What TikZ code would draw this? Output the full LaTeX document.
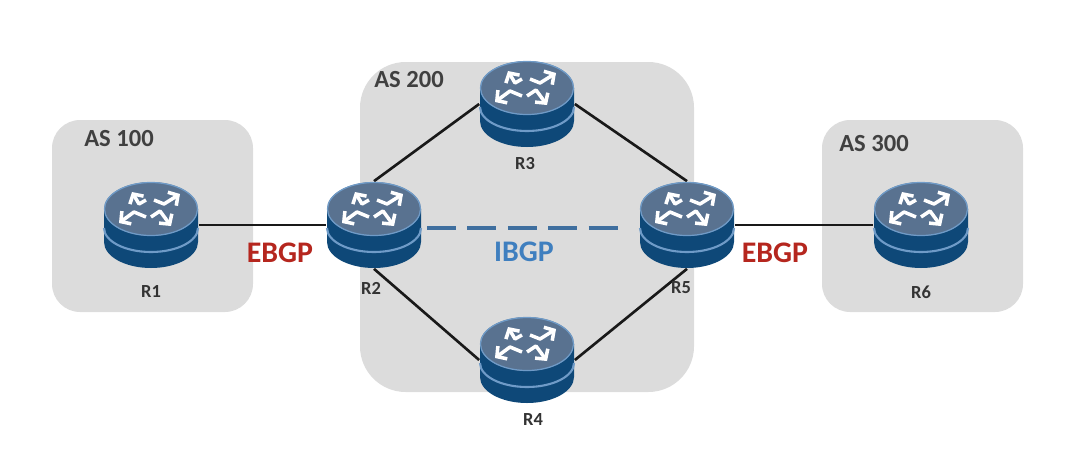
\documentclass[tikz,border=0pt]{standalone}
\usepackage{fontspec}
\setmainfont{Carlito}
\usepackage{xcolor}
\usetikzlibrary{shapes.geometric,arrows.meta}
\definecolor{asgray}{HTML}{DCDCDC}
\definecolor{capblue}{HTML}{597290}
\definecolor{bodyblue}{HTML}{0E4878}
\definecolor{bandblue}{HTML}{6F9BC8}
\definecolor{ebgpred}{HTML}{B5261E}
\definecolor{ibgpblue}{HTML}{3F7FBF}
\definecolor{dashblue}{HTML}{3F6F9F}
\tikzset{>=latex}
\tikzset{
  asbox/.style={fill=asgray,rounded corners=#1},
  routernode/.style={ellipse,minimum width=95*0.02cm,minimum height=87*0.02cm,inner sep=0pt},
  link/.style={line width=1.5pt,black!90},
  aslabel/.style={font=\bfseries\fontsize{14}{14}\selectfont,text=black!75},
  rlabel/.style={font=\bfseries\fontsize{10.5}{12}\selectfont,text=black!80},
  bgplabel/.style={font=\bfseries\fontsize{17}{17}\selectfont},
  routerarrow/.style={white,line width=2pt,line join=bevel,-{Straight Barb[length=4pt,width=9pt]}},
  router/.pic={
    % Body
    \fill[bodyblue] (-47,-16) -- (-47,17) arc[start angle=180,end angle=0,x radius=47,y radius=26] -- (47,-16) -- cycle;
    \draw[bandblue,line width=1.2pt] (-47,3) arc[start angle=180,end angle=0,x radius=47,y radius=24];
    % Cap
    \fill[capblue] (0,-16) ellipse [x radius=47,y radius=27];
    \draw[bandblue,line width=0.7pt] (0,-16) ellipse [x radius=46.5,y radius=26.5];
    % Arrows
    \begin{scope}[shift={(0,-16)}]
      \draw[routerarrow] (3,-9) -- (13,-5) -- (29,-15);
      \draw[routerarrow] (-5,8) -- (-17,3) -- (-32,14);
      \draw[routerarrow] (-5,-9) -- (-12,-5) -- (-19,-17);
      \draw[routerarrow] (0,8) -- (9,2) -- (20,17);
    \end{scope}
  },
}

\begin{document}
\begin{tikzpicture}[x=0.02cm,y=-0.02cm]
  \useasboundingbox (0,0) rectangle (1088,460);

  % AS areas
  \fill[asbox=16pt] (52,120) rectangle (253,312);
  \fill[asbox=26pt] (360,62) rectangle (694,392);
  \fill[asbox=16pt] (822,120) rectangle (1023,312);
  \node[aslabel] (as100) at (119,139) {AS 100};
  \node[aslabel] (as200) at (409,80) {AS 200};
  \node[aslabel] (as300) at (874,144) {AS 300};

  % Routers
  \node[routernode] (R1) at (151,225) {};
  \node[routernode] (R2) at (374,225) {};
  \node[routernode] (R3) at (527,104) {};
  \node[routernode] (R4) at (527,360) {};
  \node[routernode] (R5) at (687,225) {};
  \node[routernode] (R6) at (921,225) {};
  \coordinate (ibgpa) at (427,228);
  \coordinate (ibgpb) at (618,228);

  % Links
  \draw[link] (R1.east) -- (R2.west);
  \draw[link] (R5.east) -- (R6.west);
  \draw[link] (R2.north) -- (R3.west);
  \draw[link] (R3.east) -- (R5.north);
  \draw[link] (R2.south) -- (R4.west);
  \draw[link] (R4.east) -- (R5.south);
  \draw[dashblue,line width=2pt,dash pattern=on 16.5pt off 6.5pt] (ibgpa) -- (ibgpb);

  \foreach \r in {R1,R2,R3,R4,R5,R6}
    \pic at (\r) {router};

  % Labels
  \node[rlabel] (lR1) at (151,292) {R1};
  \node[rlabel] (lR2) at (371,288) {R2};
  \node[rlabel] (lR3) at (525,164) {R3};
  \node[rlabel] (lR4) at (533,420) {R4};
  \node[rlabel] (lR5) at (681,288) {R5};
  \node[rlabel] (lR6) at (921,292) {R6};
  \node[bgplabel,text=ebgpred] (ebgpl) at (280,253) {EBGP};
  \node[bgplabel,text=ebgpred] (ebgpr) at (775,253) {EBGP};
  \node[bgplabel,text=ibgpblue] (ibgp) at (524,252) {IBGP};
\end{tikzpicture}
\end{document}
